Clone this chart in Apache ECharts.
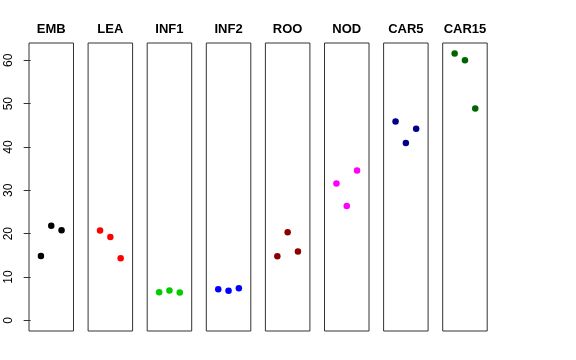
<!DOCTYPE html>
<html><head><meta charset="utf-8">
<script src="https://cdn.jsdelivr.net/npm/echarts@6/dist/echarts.min.js"></script>
<style>html,body{margin:0;padding:0;background:#fff}#c{width:576px;height:360px}</style>
</head><body><div id="c"></div>
<script>
const categories = ['EMB','LEA','INF1','INF2','ROO','NOD','CAR5','CAR15'];
const colors = ['#000000','#FF0000','#00CD00','#0000FF','#8B0000','#FF00FF','#00008B','#006400'];
const xPositions = [1, 2, 3];
const valuesEMB = [14.85, 21.85, 20.8];
const valuesLEA = [20.7, 19.2, 14.3];
const valuesINF1 = [6.5, 6.9, 6.4];
const valuesINF2 = [7.15, 6.8, 7.4];
const valuesROO = [14.8, 20.3, 15.9];
const valuesNOD = [31.6, 26.4, 34.6];
const valuesCAR5 = [45.9, 40.9, 44.2];
const valuesCAR15 = [61.6, 60.0, 48.9];
const yTicks = [0, 10, 20, 30, 40, 50, 60];
const allValues = [valuesEMB, valuesLEA, valuesINF1, valuesINF2, valuesROO, valuesNOD, valuesCAR5, valuesCAR15];

const grids = [], xAxes = [], yAxes = [], series = [];
categories.forEach((name, i) => {
  grids.push({left: 29 + 59.1 * i, top: 43, width: 44.5, height: 288, show: true,
    borderColor: '#333', borderWidth: 1, backgroundColor: 'transparent'});
  xAxes.push({gridIndex: i, type: 'value', min: -0.16, max: 4.16, position: 'top',
    name: name, nameLocation: 'middle', nameGap: 7,
    nameTextStyle: {fontFamily: 'Liberation Sans', fontWeight: 'bold', fontSize: 13, color: '#000'},
    axisLine: {show: false}, axisTick: {show: false}, axisLabel: {show: false}, splitLine: {show: false}});
  yAxes.push({gridIndex: i, type: 'value', min: -2.47, max: 64.0,
    axisLine: {show: false},
    axisTick: {show: i === 0, length: 7, lineStyle: {color: '#333'}, customValues: yTicks},
    axisLabel: {show: i === 0, rotate: 90, margin: 14, fontFamily: 'Liberation Sans', fontSize: 12, color: '#000', customValues: yTicks},
    splitLine: {show: false}});
  series.push({type: 'scatter', xAxisIndex: i, yAxisIndex: i, symbol: 'circle', symbolSize: 6.5,
    itemStyle: {color: colors[i], opacity: 1},
    data: xPositions.map((x, k) => [x, allValues[i][k]]), silent: true, animation: false});
});

const chart = echarts.init(document.getElementById('c'), null, {renderer: 'canvas'});
chart.setOption({animation: false, grid: grids, xAxis: xAxes, yAxis: yAxes, series: series});
</script></body></html>
